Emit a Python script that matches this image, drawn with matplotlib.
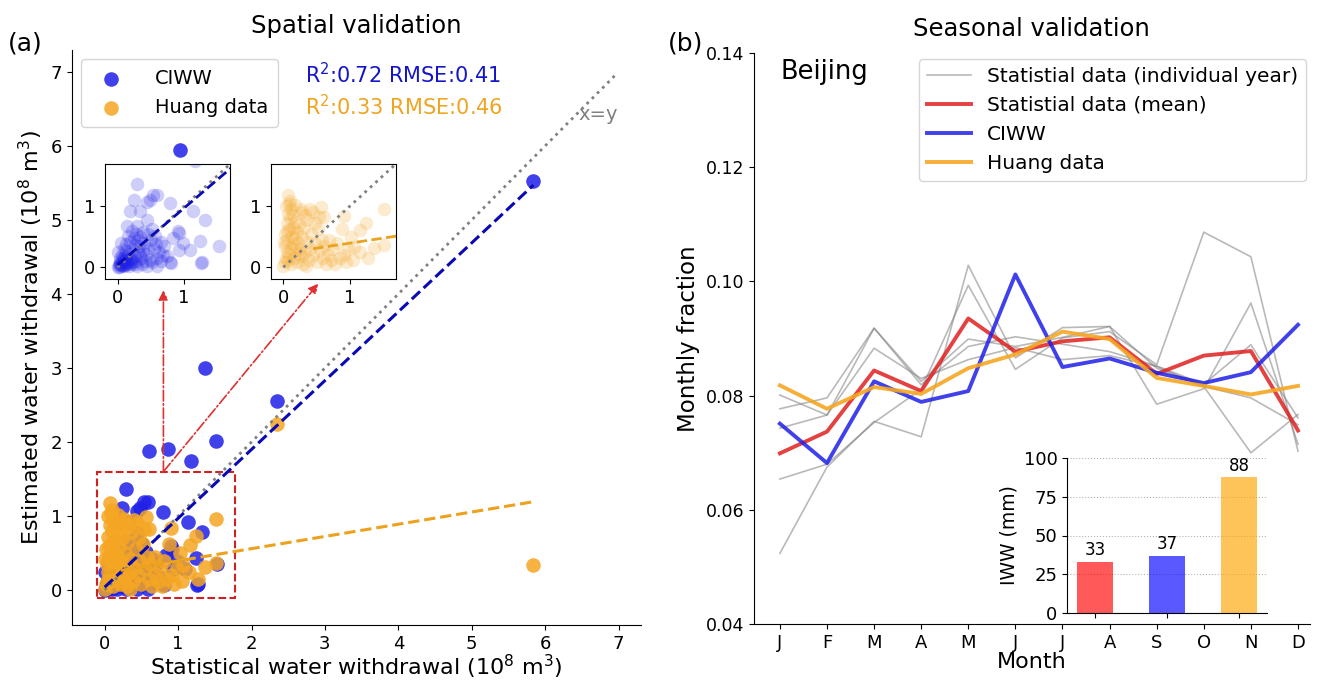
import matplotlib.pyplot as plt
from matplotlib.patches import Rectangle

# ---- (a) spatial validation: statistical vs estimated withdrawal (10^8 m3)
ciww_x = [1.02, 5.84, 1.37, 2.35, 1.52, 0.60, 0.86, 1.17,
          0.29, 0.24, 0.53, 0.59, 0.48, 0.44, 0.79, 0.18, 0.33, 1.14, 1.32, 0.44,
          0.14, 0.29, 0.51, 0.91, 0.83, 0.99, 1.09, 1.24, 1.53, 0.93, 0.79, 1.27,
          0.69, 0.59, 1.26, 0.81, 0.92,
          0.00, 0.02, 0.03, 0.05, 0.06, 0.08, 0.10, 0.12, 0.04, 0.07, 0.11, 0.14,
          0.16, 0.18, 0.20, 0.22, 0.25, 0.27, 0.30, 0.32, 0.35, 0.38, 0.40, 0.42,
          0.45, 0.48, 0.50, 0.55, 0.58, 0.62, 0.65, 0.70, 0.09, 0.13, 0.19, 0.24,
          0.28, 0.34, 0.15, 0.21, 0.38, 0.46, 0.05, 0.26, 0.36, 0.44, 0.52, 0.60,
          0.17, 0.29, 0.01, 0.31, 0.41, 0.56, 0.66, 0.74, 0.12, 0.23, 0.33, 0.03,
          0.02, 0.04, 0.06, 0.09, 0.11, 0.13, 0.15, 0.19, 0.21, 0.26, 0.08, 0.10]
ciww_y = [5.95, 5.53, 3.00, 2.56, 2.02, 1.88, 1.90, 1.74,
          1.36, 1.11, 1.19, 1.19, 1.11, 1.07, 1.05, 0.92, 0.92, 0.92, 0.78, 0.77,
          0.67, 0.67, 0.62, 0.59, 0.48, 0.40, 0.29, 0.43, 0.35, 0.29, 0.08, 0.08,
          0.20, 0.02, 0.07, 0.07, 0.56,
          0.00, 0.01, 0.05, 0.02, 0.08, 0.04, 0.12, 0.06, 0.15, 0.20, 0.18, 0.10,
          0.22, 0.14, 0.05, 0.30, 0.18, 0.10, 0.25, 0.35, 0.15, 0.28, 0.40, 0.22,
          0.32, 0.12, 0.45, 0.30, 0.38, 0.25, 0.42, 0.35, 0.30, 0.38, 0.42, 0.48,
          0.55, 0.50, 0.52, 0.60, 0.58, 0.55, 0.40, 0.36, 0.05, 0.02, 0.08, 0.15,
          0.02, 0.02, 0.25, 0.44, 0.10, 0.52, 0.10, 0.18, 0.26, 0.08, 0.20, 0.10,
          0.03, 0.06, 0.03, 0.09, 0.03, 0.14, 0.07, 0.09, 0.14, 0.05, 0.16, 0.02]

huang_x = [2.35, 5.84,
           0.07, 0.09, 0.26, 0.56, 0.44, 1.52, 0.91, 1.24, 1.16, 1.02, 0.81, 1.07,
           1.37, 1.52, 1.27, 0.91, 0.69, 0.61,
           0.00, 0.02, 0.04, 0.05, 0.03, 0.06, 0.02, 0.08, 0.05, 0.10, 0.07, 0.12,
           0.15, 0.18, 0.14, 0.20, 0.17, 0.22, 0.12, 0.25, 0.09, 0.16, 0.21, 0.27,
           0.30, 0.33, 0.28, 0.31, 0.24, 0.35, 0.38, 0.40, 0.42, 0.36, 0.45, 0.48,
           0.50, 0.52, 0.55, 0.58, 0.60, 0.62, 0.65, 0.68, 0.72, 0.75, 0.78, 0.85,
           0.95, 0.01, 0.11, 0.13, 0.19, 0.26, 0.04, 0.10, 0.32, 0.23, 0.07, 0.15,
           0.34, 0.47, 0.54, 0.40, 0.06, 0.18, 1.05, 1.15, 0.88, 0.98]
huang_y = [2.25, 0.34,
           1.18, 1.04, 0.96, 0.99, 0.91, 0.96, 0.84, 0.73, 0.61, 0.50, 0.39, 0.34,
           0.31, 0.36, 0.15, 0.20, 0.45, 0.83,
           0.02, 0.08, 0.15, 0.25, 0.35, 0.45, 0.55, 0.62, 0.72, 0.80, 0.88, 0.95,
           0.85, 0.75, 0.65, 0.58, 0.48, 0.40, 0.32, 0.30, 0.22, 0.15, 0.08, 0.18,
           0.05, 0.25, 0.50, 0.65, 0.70, 0.42, 0.12, 0.30, 0.55, 0.78, 0.20, 0.40,
           0.08, 0.62, 0.28, 0.45, 0.15, 0.35, 0.05, 0.22, 0.12, 0.30, 0.05, 0.15,
           0.08, 0.42, 0.05, 0.52, 0.30, 0.90, 1.00, 1.08, 0.85, 0.22, 0.12, 0.38,
           0.02, 0.72, 0.82, 0.95, 0.60, 1.02, 0.12, 0.25, 0.62, 0.30]

# fitted lines (intercept, slope) and their x range
ciww_fit = (0.04, 0.93)
huang_fit = (0.23, 0.165)
fit_x = [0.0, 5.84]
r2_text = ['R$^2$:0.72 RMSE:0.41', 'R$^2$:0.33 RMSE:0.46']

# ---- (b) seasonal validation, Beijing
months = ['J', 'F', 'M', 'A', 'M', 'J', 'J', 'A', 'S', 'O', 'N', 'D']
stat_years = [
    [0.0654, 0.0680, 0.0753, 0.0811, 0.0993, 0.0846, 0.0901, 0.0912, 0.0854, 0.1086, 0.1043, 0.0703],
    [0.0524, 0.0675, 0.0755, 0.0728, 0.1028, 0.0866, 0.0919, 0.0921, 0.0785, 0.0812, 0.0962, 0.0715],
    [0.0801, 0.0766, 0.0918, 0.0819, 0.0886, 0.0903, 0.0890, 0.0877, 0.0852, 0.0820, 0.0889, 0.0761],
    [0.0777, 0.0796, 0.0918, 0.0825, 0.0899, 0.0886, 0.0902, 0.0921, 0.0848, 0.0816, 0.0700, 0.0767],
    [0.0743, 0.0766, 0.0883, 0.0830, 0.0863, 0.0884, 0.0863, 0.0870, 0.0851, 0.0816, 0.0796, 0.0749],
]
stat_mean = [0.0699, 0.0737, 0.0844, 0.0808, 0.0935, 0.0877, 0.0895, 0.0902, 0.0838, 0.0870, 0.0878, 0.0739]
ciww_month = [0.0751, 0.0682, 0.0825, 0.0789, 0.0808, 0.1012, 0.0850, 0.0865, 0.0840, 0.0822, 0.0841, 0.0924]
huang_month = [0.0818, 0.0777, 0.0815, 0.0803, 0.0848, 0.0872, 0.0912, 0.0899, 0.0831, 0.0817, 0.0802, 0.0817]

iww_names = ['Statistial', 'CIWW', 'Huang']
iww_values = [33, 37, 88]

BLUE = '#2020e8'
ORANGE = '#f5a623'
RED = '#e02020'

fig = plt.figure(figsize=(13.17, 6.8), dpi=100)

# ================= (a) =================
ax1 = fig.add_axes([0.0544, 0.081, 0.432, 0.846])
ax1.scatter(ciww_x, ciww_y, s=110, color=BLUE, alpha=0.85, label='CIWW', linewidths=0)
ax1.scatter(huang_x, huang_y, s=110, color=ORANGE, alpha=0.85, label='Huang data', linewidths=0)
ax1.plot([0, 6.95], [0, 6.95], ':', color='grey', lw=2)
ax1.plot(fit_x, [ciww_fit[0] + ciww_fit[1] * v for v in fit_x], '--', color='#0a0ab4', lw=2.2)
ax1.plot(fit_x, [huang_fit[0] + huang_fit[1] * v for v in fit_x], '--', color='#eba21e', lw=2.2)
ax1.text(6.45, 6.35, 'x=y', color='grey', fontsize=14)
ax1.text(2.73, 6.96, r2_text[0], color='#1515c8', fontsize=15, va='center')
ax1.text(2.73, 6.53, r2_text[1], color='#f0a420', fontsize=15, va='center')

ax1.add_patch(Rectangle((-0.1, -0.1), 1.88, 1.7, fill=False, ls='--', lw=1.5, color='#d02020'))
for tip in [(0.8, 4.05), (2.91, 4.14)]:
    ax1.annotate('', xy=tip, xytext=(0.8, 1.6),
                 arrowprops=dict(arrowstyle='-|>', color='#e03030', lw=1.2, ls='-.',
                                 mutation_scale=14, shrinkA=0, shrinkB=0))

ax1.set_xlim(-0.45, 7.3)
ax1.set_ylim(-0.47, 7.3)
ax1.set_xticks(range(8))
ax1.set_yticks(range(8))
ax1.tick_params(labelsize=13)
ax1.spines['top'].set_visible(False)
ax1.spines['right'].set_visible(False)
ax1.set_xlabel('Statistical water withdrawal (10$^8$ m$^3$)', fontsize=16, labelpad=0)
ax1.set_ylabel('Estimated water withdrawal (10$^8$ m$^3$)', fontsize=16)
ax1.set_title('Spatial validation', fontsize=17.5, pad=12)
ax1.legend(loc='upper left', fontsize=14, handletextpad=1.3, borderpad=0.5)
fig.text(0.006, 0.925, '(a)', fontsize=18)

# zoomed insets
for left, xs, ys, col, fit, lcol in [(0.0797, ciww_x, ciww_y, BLUE, ciww_fit, '#0a0ab4'),
                                     (0.2055, huang_x, huang_y, ORANGE, huang_fit, '#eba21e')]:
    ins = fig.add_axes([left, 0.589, 0.0949, 0.1696])
    ins.scatter(xs, ys, s=95, color=col, alpha=0.22, linewidths=0)
    ins.plot([0, 1.69], [0, 1.69], ':', color='grey', lw=2)
    if col == BLUE:
        fx = [0.0, 1.7]
    else:
        fx = [0.45, 1.7]
    ins.plot(fx, [fit[0] + fit[1] * v for v in fx], '--', color=lcol, lw=2)
    ins.set_xlim(-0.19, 1.69)
    ins.set_ylim(-0.2, 1.69)
    ins.set_xticks([0, 1])
    ins.set_yticks([0, 1])
    ins.tick_params(labelsize=13)

# ================= (b) =================
ax2 = fig.add_axes([0.5725, 0.082, 0.422, 0.8405])
x = list(range(12))
for i, yr in enumerate(stat_years):
    ax2.plot(x, yr, color='grey', alpha=0.55, lw=1.2,
             label='Statistial data (individual year)' if i == 0 else None)
ax2.plot(x, stat_mean, color=RED, alpha=0.85, lw=2.8, label='Statistial data (mean)')
ax2.plot(x, ciww_month, color=BLUE, alpha=0.85, lw=2.8, label='CIWW')
ax2.plot(x, huang_month, color=ORANGE, alpha=0.9, lw=2.8, label='Huang data')
ax2.set_xlim(-0.55, 11.25)
ax2.set_ylim(0.04, 0.14)
ax2.set_xticks(x)
ax2.set_xticklabels(months, fontsize=13)
ax2.set_yticks([0.04, 0.06, 0.08, 0.10, 0.12, 0.14])
ax2.set_yticklabels(['0.04', '0.06', '0.08', '0.10', '0.12', '0.14'], fontsize=12.5)
ax2.spines['top'].set_visible(False)
ax2.spines['right'].set_visible(False)
ax2.set_xlabel('Month', fontsize=16, labelpad=0)
ax2.set_ylabel('Monthly fraction', fontsize=16.5)
ax2.set_title('Seasonal validation', fontsize=17.5, pad=12)
ax2.text(0.047, 0.966, 'Beijing', transform=ax2.transAxes, fontsize=18.5, va='center')
ax2.legend(loc='upper right', bbox_to_anchor=(1.005, 1.0), fontsize=14.5, borderaxespad=0.3,
           handlelength=2.2)
fig.text(0.507, 0.925, '(b)', fontsize=18)

# IWW bar inset
bx = fig.add_axes([0.8104, 0.099, 0.1514, 0.227])
bars = bx.bar(range(3), iww_values, width=0.5, color=['red', 'blue', 'orange'], alpha=0.65)
for b, v in zip(bars, iww_values):
    bx.text(b.get_x() + b.get_width() / 2, v + 1.5, str(v), ha='center', va='bottom', fontsize=12)
bx.set_xlim(-0.385, 2.385)
bx.set_ylim(0, 100)
bx.set_yticks([0, 25, 50, 75, 100])
bx.set_xticks(range(3))
bx.set_xticklabels([])
bx.tick_params(labelsize=13)
bx.grid(axis='y', ls=':', color='grey', alpha=0.6)
bx.set_axisbelow(True)
bx.spines['top'].set_visible(False)
bx.spines['right'].set_visible(False)
bx.set_ylabel('IWW (mm)', fontsize=13.5)
bx.patch.set_alpha(0)

plt.savefig('out.png', dpi=100)
